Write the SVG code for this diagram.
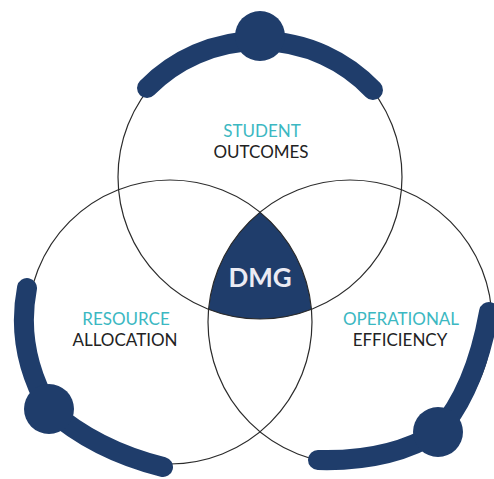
<svg xmlns="http://www.w3.org/2000/svg" width="494" height="479" viewBox="0 0 494 479">
  <style>
    .ring { fill: none; stroke: #2b2b2b; stroke-width: 1.2; }
    .band { fill: none; stroke: #1f3d6b; stroke-width: 20; stroke-linecap: round; stroke-linejoin: round; }
    .dot { fill: #1f3d6b; }
    .core { fill: #1f3d6b; }
    .lbl { font-family: Lato, "Liberation Sans", sans-serif; font-size: 17px; text-anchor: middle; }
    .teal { fill: #3cb8c2; }
    .dark { fill: #222222; }
    .dmg { font-family: Lato, "Liberation Sans", sans-serif; font-size: 26px; font-weight: 700; fill: #ebebf3; text-anchor: middle; }
  </style>
  <rect width="494" height="479" fill="#ffffff"/>

  <g id="center-dmg">
    <path class="core" d="M260,212 A142,142 0 0 1 311.4,309.4 A142,142 0 0 1 208.6,309.4 A142,142 0 0 1 260,212 Z"/>
    <text class="dmg" x="260" y="287">DMG</text>
  </g>

  <g id="circle-student-outcomes">
    <circle class="ring" cx="260" cy="177" r="142"/>
    <path class="band" d="M147,88 A157,157 0 0 1 373,90"/>
    <circle class="dot" cx="260" cy="36" r="25"/>
    <text class="lbl teal" x="262" y="137">STUDENT</text>
    <text class="lbl dark" x="261" y="158">OUTCOMES</text>
  </g>

  <g id="circle-resource-allocation">
    <circle class="ring" cx="170" cy="322" r="142"/>
    <path class="band" d="M27,288 Q15,350 49,409 Q95,450 163,467"/>
    <circle class="dot" cx="49" cy="409" r="25"/>
    <text class="lbl teal" x="126" y="325">RESOURCE</text>
    <text class="lbl dark" x="125" y="346">ALLOCATION</text>
  </g>

  <g id="circle-operational-efficiency">
    <circle class="ring" cx="350" cy="322" r="142"/>
    <path class="band" d="M489,312 Q475,390 438,432 Q390,462 318,460"/>
    <circle class="dot" cx="438" cy="432" r="25"/>
    <text class="lbl teal" x="401" y="325">OPERATIONAL</text>
    <text class="lbl dark" x="400" y="346">EFFICIENCY</text>
  </g>

  <g id="connectors"/>
</svg>
